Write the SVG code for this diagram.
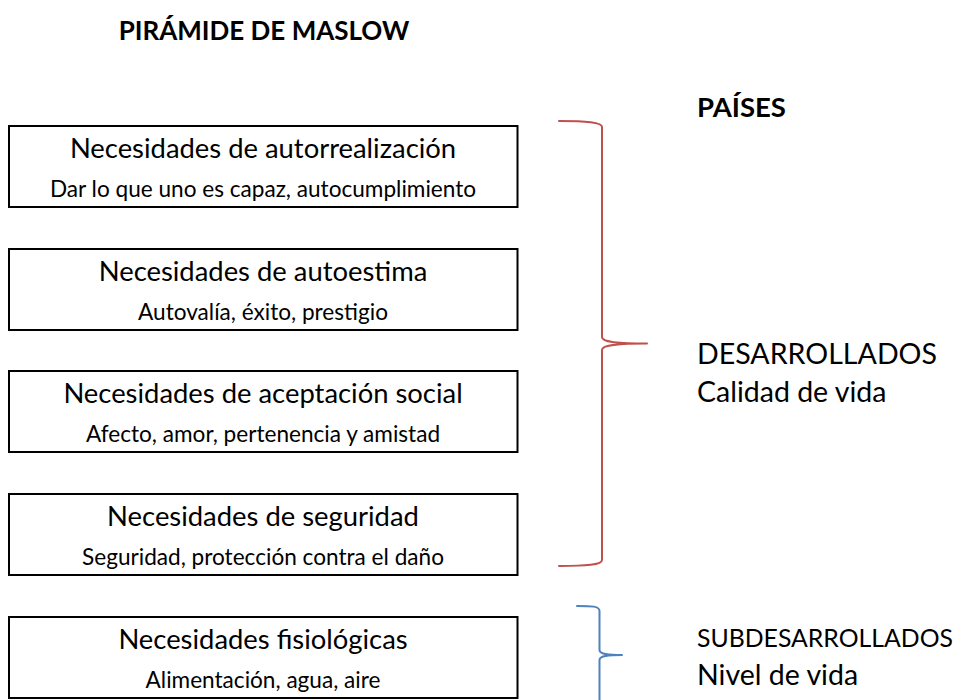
<svg xmlns="http://www.w3.org/2000/svg" width="962" height="700" viewBox="0 0 962 700">
<style>
.box{fill:#fff;stroke:#000;stroke-width:2}
.t{font-family:Lato,"Open Sans","Liberation Sans",sans-serif;fill:#000}
.main{font-size:27.4px;text-anchor:middle}
.sub{font-size:22.6px;text-anchor:middle}
.bold{font-weight:bold;font-size:26px}
.side{font-size:28.5px}
.brace{fill:none;stroke-width:2;stroke-linecap:round;stroke-linejoin:round}
</style>
<rect width="962" height="700" fill="#fff"/>
<text class="t bold" x="264" y="40" text-anchor="middle">PIRÁMIDE DE MASLOW</text>
<text class="t bold" x="697" y="117" style="font-size:27.5px">PAÍSES</text>
<g id="n1"><rect class="box" x="9" y="126" width="508.5" height="81"/><text class="t main" x="263" y="158">Necesidades de autorrealización</text><text class="t sub" x="263" y="197">Dar lo que uno es capaz, autocumplimiento</text></g>
<g id="n2"><rect class="box" x="9" y="249" width="508.5" height="81"/><text class="t main" x="263" y="281">Necesidades de autoestima</text><text class="t sub" x="263" y="320">Autovalía, éxito, prestigio</text></g>
<g id="n3"><rect class="box" x="9" y="371" width="508.5" height="81"/><text class="t main" x="263" y="403">Necesidades de aceptación social</text><text class="t sub" x="263" y="442">Afecto, amor, pertenencia y amistad</text></g>
<g id="n4"><rect class="box" x="9" y="494" width="508.5" height="81"/><text class="t main" x="263" y="526">Necesidades de seguridad</text><text class="t sub" x="263" y="565">Seguridad, protección contra el daño</text></g>
<g id="n5"><rect class="box" x="9" y="617" width="508.5" height="81"/><text class="t main" x="263" y="649">Necesidades fisiológicas</text><text class="t sub" x="263" y="688">Alimentación, agua, aire</text></g>
<g id="connectors">
<path class="brace" stroke="#C0504D" d="M559,121 C586,121 602,122 602,127 L602,337 C602,342 615,343.5 647,343.5 C615,343.5 602,345 602,350 L602,560 C602,565 586,566 559,566"/>
<path class="brace" stroke="#4F81BD" d="M577,606 C592,606 599.5,606 599.5,611 L599.5,650 C599.5,654 607,655 622,655 C607,655 599.5,656 599.5,660 L599.5,706"/>
</g>
<g id="labels">
<text class="t side" x="697" y="364" textLength="240" lengthAdjust="spacingAndGlyphs">DESARROLLADOS</text>
<text class="t side" x="697" y="402">Calidad de vida</text>
<text class="t side" x="697" y="647" style="font-size:25.5px" textLength="256" lengthAdjust="spacingAndGlyphs">SUBDESARROLLADOS</text>
<text class="t side" x="697" y="685">Nivel de vida</text>
</g>
</svg>
